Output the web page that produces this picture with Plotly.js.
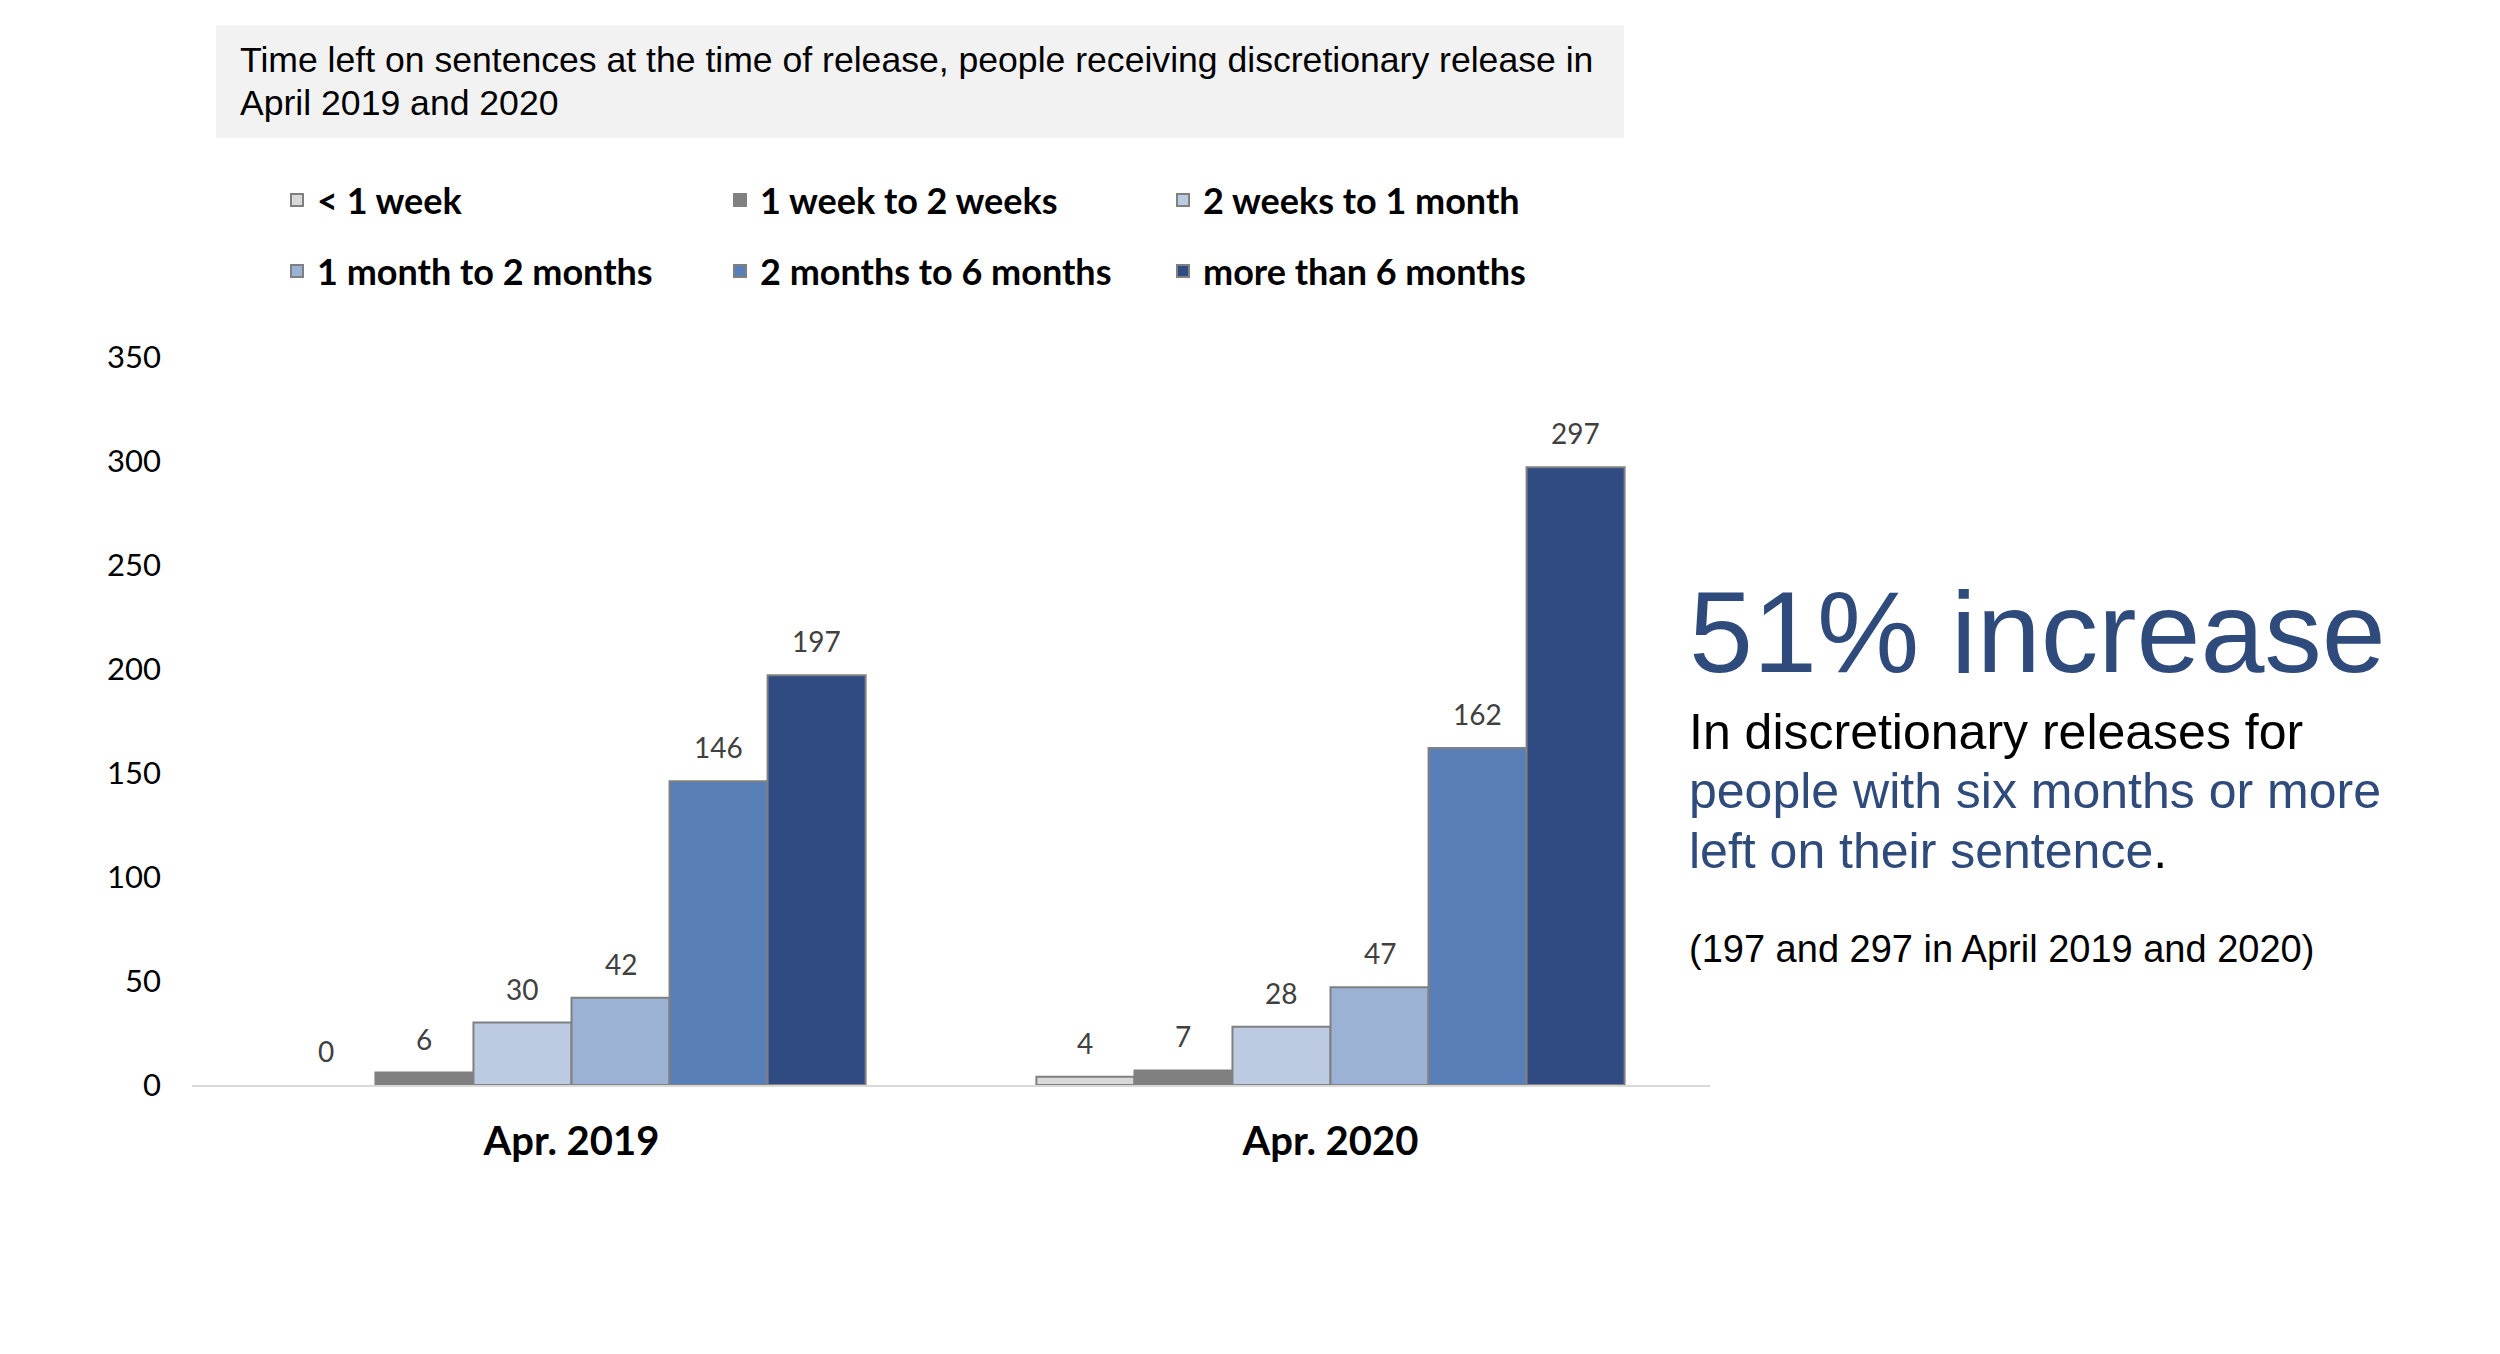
<!DOCTYPE html>
<html>
<head>
<meta charset="utf-8">
<script src="https://cdn.plot.ly/plotly-3.0.1.min.js"></script>
<style>html,body{margin:0;padding:0;background:#fff;}#chart{width:2500px;height:1354px;}</style>
</head>
<body>
<div id="chart"></div>
<script>
// ---- data ----
var categories = ["Apr. 2019", "Apr. 2020"];
var seriesNames = ["< 1 week", "1 week to 2 weeks", "2 weeks to 1 month",
                   "1 month to 2 months", "2 months to 6 months", "more than 6 months"];
var lessThan1Week = [0, 4];
var week1To2Weeks = [6, 7];
var weeks2To1Month = [30, 28];
var month1To2Months = [42, 47];
var months2To6Months = [146, 162];
var moreThan6Months = [197, 297];
var yTickValues = [0, 50, 100, 150, 200, 250, 300, 350];

var seriesValues = [lessThan1Week, week1To2Weeks, weeks2To1Month,
                    month1To2Months, months2To6Months, moreThan6Months];
var seriesColors = ["#d9d9d9", "#808080", "#bccbe2", "#9bb2d5", "#587fb7", "#2f4b82"];

var BARGAP = 0.225;

var traces = seriesNames.map(function (name, i) {
  return {
    type: "bar",
    name: name,
    x: categories,
    y: seriesValues[i],
    marker: {
      color: seriesColors[i],
      line: { color: "#808080", width: seriesValues[i].map(function (v) { return v === 0 ? 0 : 2; }) }
    },
    legend: i < 3 ? "legend" : "legend2",
    hoverinfo: "skip"
  };
});

var L = 192, W = 1518, B = 1085, H = 728;
function px(x) { return (x - L) / W; }
function py(y) { return (B - y) / H; }

// value labels above each bar, placed in data coordinates
var nSeries = seriesNames.length;
var slot = (1 - BARGAP) / nSeries;
var valueLabels = [];
seriesValues.forEach(function (vals, i) {
  vals.forEach(function (v, c) {
    valueLabels.push({
      text: String(v), xref: "x", yref: "y",
      x: c - (1 - BARGAP) / 2 + (i + 0.5) * slot, y: v,
      xanchor: "center", yanchor: "middle", yshift: 34,
      showarrow: false,
      font: { family: "Lato", size: 28, color: "#404040" }
    });
  });
});

var legendFont = { family: "Lato", size: 36, color: "#000000", weight: "bold" };

var textAnn = [
  { text: "Time left on sentences at the time of release, people receiving discretionary release in",
    xref: "paper", yref: "paper", x: px(238), y: py(60), xanchor: "left", yanchor: "middle",
    showarrow: false, font: { family: "Liberation Sans", size: 35.6, color: "#000000" } },
  { text: "April 2019 and 2020",
    xref: "paper", yref: "paper", x: px(238), y: py(103), xanchor: "left", yanchor: "middle",
    showarrow: false, font: { family: "Liberation Sans", size: 35.6, color: "#000000" } },
  { text: "51% increase",
    xref: "paper", yref: "paper", x: px(1687), y: py(632), xanchor: "left", yanchor: "middle",
    showarrow: false, font: { family: "Liberation Sans", size: 115, color: "#2f4b7c" } },
  { text: "In discretionary releases for",
    xref: "paper", yref: "paper", x: px(1687), y: py(732), xanchor: "left", yanchor: "middle",
    showarrow: false, font: { family: "Liberation Sans", size: 50, color: "#000000" } },
  { text: "people with six months or more",
    xref: "paper", yref: "paper", x: px(1687), y: py(791), xanchor: "left", yanchor: "middle",
    showarrow: false, font: { family: "Liberation Sans", size: 50, color: "#2f4b7c" } },
  { text: "left on their sentence<span style='color:#000000'>.</span>",
    xref: "paper", yref: "paper", x: px(1687), y: py(851), xanchor: "left", yanchor: "middle",
    showarrow: false, font: { family: "Liberation Sans", size: 50, color: "#2f4b7c" } },
  { text: "(197 and 297 in April 2019 and 2020)",
    xref: "paper", yref: "paper", x: px(1687), y: py(949), xanchor: "left", yanchor: "middle",
    showarrow: false, font: { family: "Liberation Sans", size: 38, color: "#000000" } }
];

var layout = {
  width: 2500,
  height: 1354,
  margin: { l: 192, r: 790, t: 357, b: 269 },
  paper_bgcolor: "#ffffff",
  plot_bgcolor: "#ffffff",
  barmode: "group",
  bargap: BARGAP,
  bargroupgap: 0,
  showlegend: true,
  legend: {
    orientation: "h", x: px(277), y: py(170), xanchor: "left", yanchor: "top",
    font: legendFont, entrywidth: 398, entrywidthmode: "pixels", itemsizing: "constant",
    bgcolor: "rgba(0,0,0,0)", traceorder: "normal"
  },
  legend2: {
    orientation: "h", x: px(277), y: py(241), xanchor: "left", yanchor: "top",
    font: legendFont, entrywidth: 398, entrywidthmode: "pixels", itemsizing: "constant",
    bgcolor: "rgba(0,0,0,0)", traceorder: "normal"
  },
  xaxis: {
    type: "category",
    showline: true, linecolor: "#d9d9d9", linewidth: 2,
    showgrid: false, zeroline: false, ticks: "",
    ticklabelstandoff: 20,
    tickfont: { family: "Lato", size: 40, color: "#000000", weight: "bold" }
  },
  yaxis: {
    range: [0, 350],
    tickvals: yTickValues,
    ticktext: yTickValues.map(String),
    showline: false, showgrid: false, zeroline: false, ticks: "",
    ticklabelstandoff: 30,
    tickfont: { family: "Lato", size: 31, color: "#000000" }
  },
  shapes: [{
    type: "rect", xref: "paper", yref: "paper", layer: "below",
    x0: px(216), x1: px(1624), y0: py(138), y1: py(25),
    fillcolor: "#f2f2f2", line: { width: 0 }
  }],
  annotations: textAnn.concat(valueLabels)
};

Plotly.newPlot("chart", traces, layout, { staticPlot: true, displayModeBar: false });
</script>
</body>
</html>
